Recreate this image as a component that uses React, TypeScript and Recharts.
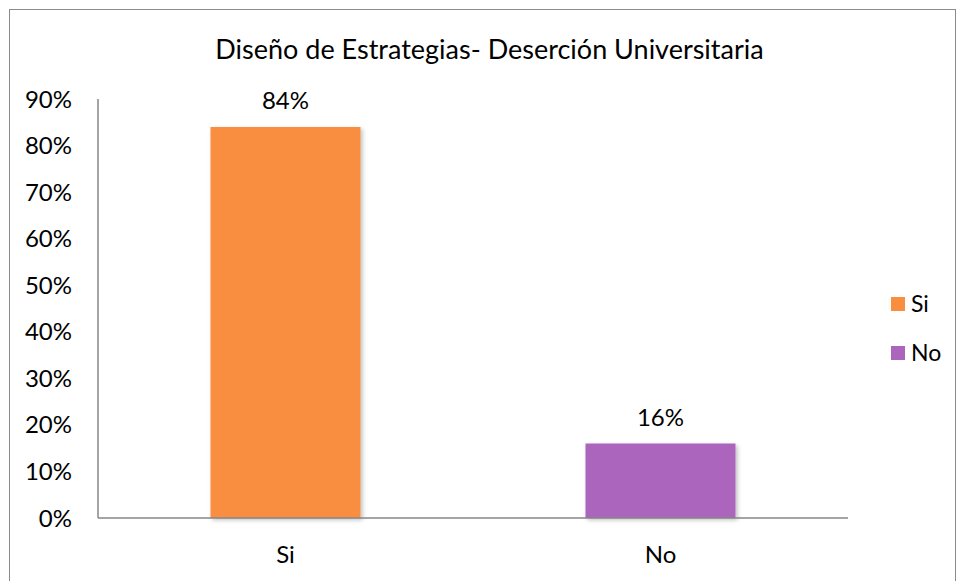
import { BarChart, Bar, XAxis, YAxis, Cell, LabelList } from 'recharts'

const title = 'Diseño de Estrategias- Deserción Universitaria'
const categories = ['Si', 'No']
const values = [0.84, 0.16]
const colors = ['#F98E3F', '#AB65BD']
const yTicks = [0, 0.1, 0.2, 0.3, 0.4, 0.5, 0.6, 0.7, 0.8, 0.9]

const data = categories.map((name, i) => ({ name, value: values[i] }))

const font = 'Lato, "Open Sans", sans-serif'
const pct = (v: number) => `${Math.round(v * 100)}%`

// legend drawn beside the chart, one entry per category (Excel "vary colors by point")
const LegendBox = () => (
	<svg
		width={70}
		height={100}
		style={{ position: 'absolute', left: 881, top: 270, pointerEvents: 'none' }}
	>
		{categories.map((c, i) => (
			<g key={c}>
				<rect x={0} y={17 + i * 49} width={14} height={14} fill={colors[i]} />
				<text x={20} y={32 + i * 49} fontSize={23} fontFamily={font} fill="#000">
					{c}
				</text>
			</g>
		))}
	</svg>
)

export default function App() {
	return (
		<div
			style={{
				position: 'absolute',
				left: 9,
				top: 9,
				width: 947,
				height: 572,
				boxSizing: 'border-box',
				borderTop: '1px solid #8a8a8a',
				borderLeft: '1px solid #8a8a8a',
				borderRight: '1px solid #8a8a8a',
				background: '#fff',
				overflow: 'hidden',
			}}
		>
			<svg
				width={945}
				height={80}
				style={{ position: 'absolute', left: 0, top: 0, pointerEvents: 'none' }}
			>
				<text x={479.5} y={49} textAnchor="middle" fontSize={27} fontFamily={font} fill="#000">
					{title}
				</text>
			</svg>
			<LegendBox />
			<BarChart
				width={945}
				height={571}
				data={data}
				margin={{ top: 89, right: 107, left: 0, bottom: 13 }}
				barCategoryGap="30%"
			>
				<defs>
					<filter id="barShadow" x="-10%" y="-10%" width="130%" height="130%">
						<feDropShadow dx={2} dy={2} stdDeviation={2} floodColor="#000" floodOpacity={0.25} />
					</filter>
				</defs>
				<XAxis
					dataKey="name"
					axisLine={{ stroke: '#868686', strokeWidth: 1.5 }}
					tickLine={false}
					tickSize={0}
					tickMargin={28}
					height={50}
					tick={{ fill: '#000', fontSize: 24, fontFamily: font }}
				/>
				<YAxis
					domain={[0, 0.9]}
					ticks={yTicks}
					tickFormatter={pct}
					axisLine={{ stroke: '#868686', strokeWidth: 1.5 }}
					tickLine={false}
					tickSize={0}
					tickMargin={26}
					width={88}
					tick={{ fill: '#000', fontSize: 24, fontFamily: font }}
				/>
				<Bar dataKey="value" isAnimationActive={false} filter="url(#barShadow)">
					{data.map((d, i) => (
						<Cell key={d.name} fill={colors[i]} />
					))}
					<LabelList
						dataKey="value"
						position="top"
						offset={18}
						formatter={(v: number) => pct(v)}
						style={{ fill: '#000', fontSize: 24, fontFamily: font }}
					/>
				</Bar>
			</BarChart>
		</div>
	)
}
